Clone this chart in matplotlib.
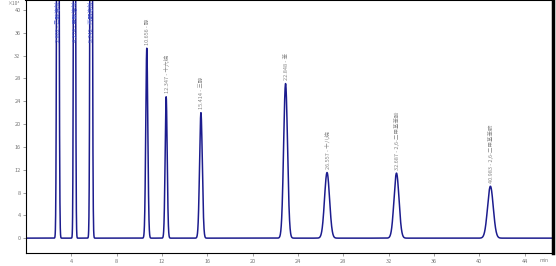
import numpy as np
import matplotlib
matplotlib.use("Agg")
import matplotlib.pyplot as plt

plt.rcParams['font.family'] = ['Noto Sans CJK SC', 'DejaVu Sans']

# Peak table (retention time [min], height [x10^4], width sigma [min])
peak_times   = [2.80, 4.27, 5.74, 10.65, 12.36, 15.43, 22.90, 26.56, 32.69, 40.98]
peak_heights = [200.0, 200.0, 200.0, 33.3, 24.8, 22.0, 27.1, 11.5, 11.4, 9.1]
peak_sigmas  = [0.07, 0.06, 0.07, 0.09, 0.09, 0.12, 0.17, 0.22, 0.22, 0.25]
peak_labels  = ["2.802 - 乙醇溶剂", "4.274 - 甲醇溶剂", "5.742 - 丙酮溶剂",
                "10.656 - 醇", "12.347 - 十六烷", "15.414 - 三醇",
                "22.848 - 苯", "26.557 - 十八烷",
                "32.687 - 2,6-二甲基苯酚", "40.983 - 2,6-二甲基苯胺"]

x_ticks = [4, 8, 12, 16, 20, 24, 28, 32, 36, 40, 44]
y_ticks = [0, 4, 8, 12, 16, 20, 24, 28, 32, 36, 40]

t = np.linspace(0, 46.5, 6000)
signal = np.zeros_like(t)
for rt, h, s in zip(peak_times, peak_heights, peak_sigmas):
    signal += h * np.exp(-0.5 * ((t - rt) / s) ** 2)

fig = plt.figure(figsize=(5.56, 2.66), dpi=100)
ax = fig.add_axes([0.047, 0.049, 0.9475, 0.951])
ax.plot(t, signal, color='#1c1c8e', lw=1.1)
ax.set_xlim(0, 46.5)
ax.set_ylim(-2.6, 41.75)

ax.set_xticks(x_ticks)
ax.set_yticks(y_ticks)
ax.tick_params(axis='both', labelsize=4, colors='#777777', length=2, width=0.5, direction='out', pad=2)
for sp in ax.spines.values():
    sp.set_linewidth(0.8)
    sp.set_color('black')
ax.spines['right'].set_linewidth(2.5)
ax.spines['top'].set_linewidth(1.5)

for rt, h, lab in zip(peak_times, peak_heights, peak_labels):
    if h > 41:
        ax.text(rt - 0.05, 41.5, lab, rotation=90, ha='center', va='top', fontsize=4,
                color='#4a5ad0')
    else:
        ax.text(rt + 0.05, h + 0.6, lab, rotation=90, ha='center', va='bottom', fontsize=4,
                color='#888888')

ax.text(-0.6, 41.2, "×10⁴", fontsize=3.5, color='#777777', ha='right', va='center')
ax.text(45.7, -3.9, "min", fontsize=3.5, color='#777777', ha='center', va='center')

fig.savefig("out.png", dpi=100)
